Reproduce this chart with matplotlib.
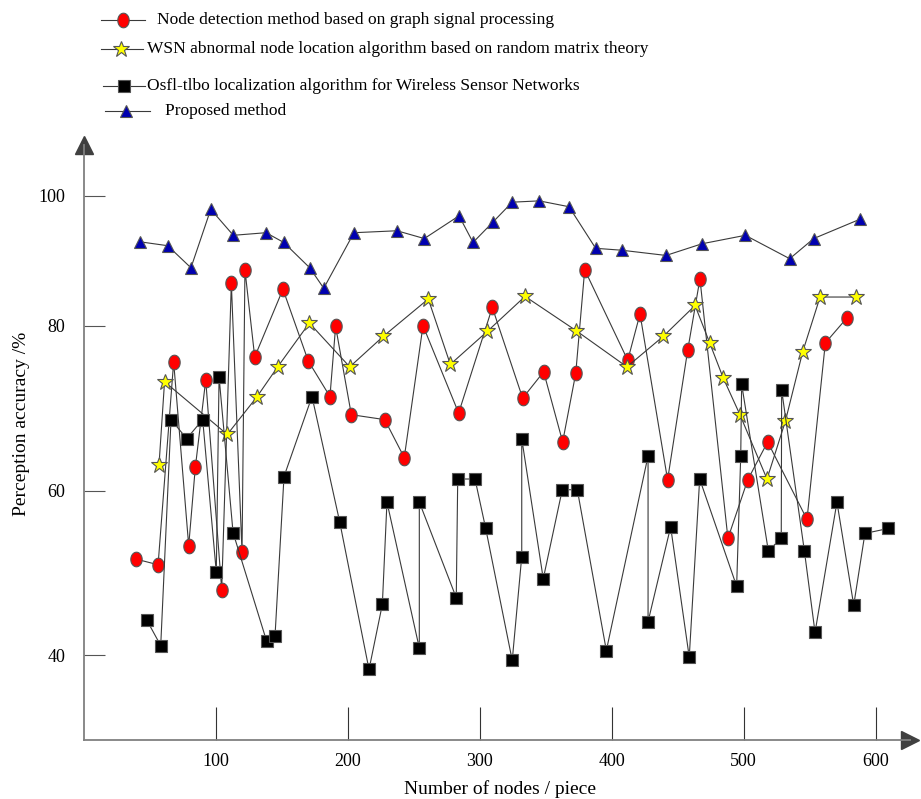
import numpy as np
import matplotlib
matplotlib.use("Agg")
import matplotlib.pyplot as plt
from matplotlib.path import Path

plt.rcParams['font.family'] = ['Liberation Serif', 'DejaVu Serif']

# ---------------- data ----------------
gsp_x = [39.5, 56.5, 68.3, 79.7, 84.7, 92.6, 104.7, 112.0, 120.1, 122.3, 129.7, 151.1,
         170.3, 186.7, 191.0, 202.9, 228.2, 243.0, 257.2, 284.2, 309.7, 332.7, 348.6,
         363.0, 372.9, 379.7, 412.3, 421.6, 442.5, 457.7, 467.0, 488.2, 503.2, 518.3,
         548.1, 562.0, 578.4]
gsp_y = [51.7, 51.0, 75.6, 53.3, 62.8, 73.4, 48.0, 86.5, 52.5, 88.6, 76.2, 85.6,
         75.7, 71.4, 79.9, 69.2, 68.6, 64.0, 80.0, 69.4, 82.8, 71.2, 74.4,
         65.9, 74.2, 88.6, 75.8, 81.8, 61.3, 77.0, 87.2, 54.2, 61.3, 65.9,
         56.5, 77.9, 81.2]

rmt_x = [57.2, 61.4, 108.9, 131.1, 147.1, 171.1, 201.7, 227.1, 261.2, 277.9, 305.9, 334.5,
         373.1, 411.7, 439.2, 463.3, 474.4, 484.5, 497.3, 517.8, 531.7, 544.8, 558.0, 585.0]
rmt_y = [63.1, 73.2, 66.8, 71.3, 75.0, 80.4, 75.0, 78.7, 84.1, 75.3, 79.3, 84.5,
         79.4, 75.0, 78.7, 83.1, 77.9, 73.7, 69.2, 61.4, 68.4, 76.8, 84.4, 84.4]

osfl_x = [47.9, 58.5, 66.3, 78.2, 90.3, 100.6, 102.7, 113.3, 138.8, 145.1, 151.9, 173.1,
          194.1, 216.3, 226.4, 229.9, 254.4, 254.4, 282.4, 283.5, 296.6, 304.7, 324.8,
          332.0, 332.0, 348.3, 362.7, 374.1, 396.1, 427.7, 427.7, 444.8, 458.9, 466.8,
          494.8, 497.9, 498.6, 518.8, 528.6, 528.9, 546.1, 554.2, 570.8, 583.5, 592.0, 609.7]
osfl_y = [44.3, 41.2, 68.6, 66.3, 68.6, 50.1, 73.8, 54.9, 41.7, 42.4, 61.7, 71.4,
          56.2, 38.3, 46.2, 58.6, 40.9, 58.6, 47.0, 61.4, 61.4, 55.4, 39.4,
          52.0, 66.3, 49.3, 60.1, 60.1, 40.6, 64.2, 44.1, 55.6, 39.8, 61.4,
          48.4, 64.2, 72.9, 52.7, 54.2, 72.2, 52.7, 42.8, 58.6, 46.1, 54.8, 55.4]

prop_x = [42.8, 63.8, 81.4, 96.4, 113.5, 138.3, 151.7, 171.4, 182.0, 204.9, 237.5, 258.2,
          284.5, 295.1, 310.0, 324.8, 345.3, 367.8, 388.0, 408.0, 441.3, 468.6, 501.4,
          535.0, 553.2, 588.5]
prop_y = [92.9, 92.3, 88.9, 97.9, 93.9, 94.3, 92.8, 88.9, 85.75, 94.3, 94.6, 93.4,
          96.9, 92.8, 95.9, 99.0, 99.2, 98.3, 91.9, 91.6, 90.8, 92.6, 93.9,
          90.3, 93.4, 96.4]

labels = ["Node detection method based on graph signal processing",
          "WSN abnormal node location algorithm based on random matrix theory",
          "Osfl-tlbo localization algorithm for Wireless Sensor Networks",
          "Proposed method"]
x_ticks = [100, 200, 300, 400, 500, 600]
y_ticks = [40, 60, 80, 100]
x_label = "Number of nodes / piece"
y_label = "Perception accuracy /%"

# ---------------- figure ----------------
W, H = 921, 799
fig = plt.figure(figsize=(W / 100, H / 100), dpi=100)
ax = fig.add_axes([83.5 / W, (H - 740) / H, (910 - 83.5) / W, (740 - 145) / H])

# the original axis is compressed above 80
K = 6.5 / 8.25
def fwd(v):
    v = np.asarray(v, dtype=float)
    return np.where(v <= 80, v, 80 + (v - 80) * K)
def inv(u):
    u = np.asarray(u, dtype=float)
    return np.where(u <= 80, u, 80 + (u - 80) / K)
ax.set_yscale('function', functions=(fwd, inv))

t = np.linspace(0, 2 * np.pi, 60)
ellipse = Path(np.column_stack([0.78 * np.cos(t), np.sin(t)]))

lc = '#3a3a3a'
ec = '#555555'
styles = [
    dict(marker=ellipse, markersize=10.5, markerfacecolor='#ff0000'),
    dict(marker='*', markersize=12, markerfacecolor='#ffff00'),
    dict(marker='s', markersize=9, markerfacecolor='#000000'),
    dict(marker='^', markersize=9, markerfacecolor='#0000b0'),
]
series = [(gsp_x, gsp_y), (rmt_x, rmt_y), (osfl_x, osfl_y), (prop_x, prop_y)]
for (xs, ys), st in zip(series, styles):
    ax.plot(xs, ys, color=lc, linewidth=0.8, markeredgecolor=ec,
            markeredgewidth=0.8, zorder=3, **st)

ax.set_xlim(0, (910 - 83.5) / 1.32)
ax.set_ylim(29.75, 107.8)
ax.set_xticks(x_ticks)
ax.set_yticks(y_ticks)
ax.set_xticklabels([str(v) for v in x_ticks])
ax.set_yticklabels([str(v) for v in y_ticks])
ax.yaxis.set_minor_locator(matplotlib.ticker.NullLocator())
ax.tick_params(axis='x', direction='in', length=24, width=0.8, color='#333333',
               labelsize=13, pad=9)
ax.tick_params(axis='y', direction='in', length=15, width=0.8, color='#555555',
               labelsize=13, pad=13)
for s in ['top', 'right']:
    ax.spines[s].set_visible(False)
for s in ['left', 'bottom']:
    ax.spines[s].set_color('#808080')
    ax.spines[s].set_linewidth(1.3)
ax.plot(1, 0, '>', color='#404040', markersize=13, transform=ax.transAxes, clip_on=False)
ax.plot(0, 1, '^', color='#404040', markersize=13, transform=ax.transAxes, clip_on=False)

# overlay in pixel coordinates for legend and axis titles
lax = fig.add_axes([0, 0, 1, 1])
lax.set_xlim(0, W)
lax.set_ylim(H, 0)
lax.axis('off')
lax.text(22, 424, y_label, rotation=90, ha='center', va='center', fontsize=14)
lax.text(500, 789, x_label, ha='center', va='center', fontsize=14)

leg = [(101, 145, 123, 20, 157), (101, 143, 121, 49, 147),
       (103, 145, 124, 86, 147), (105, 150, 126, 111, 165)]
for (x0, x1, xm, yy, xt), st, lab in zip(leg, styles, labels):
    lax.plot([x0, x1], [yy, yy], color=lc, linewidth=0.8)
    lax.plot([xm], [yy], color=lc, markeredgecolor=ec, markeredgewidth=0.8, **st)
    lax.text(xt, yy, lab, ha='left', va='center', fontsize=12.5)

fig.savefig('out.png', dpi=100)
